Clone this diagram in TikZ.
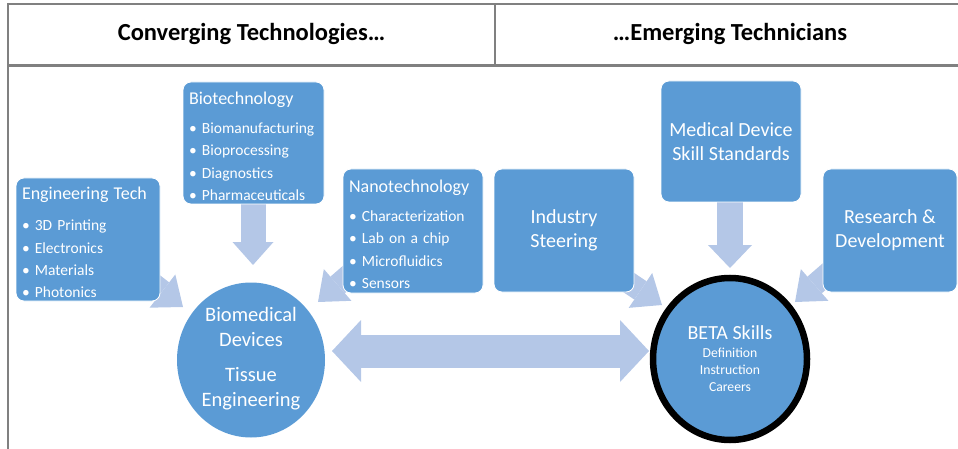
\documentclass[tikz,border=0pt]{standalone}
\usepackage{fontspec}
\setmainfont{Carlito}
\usetikzlibrary{arrows.meta,shapes.geometric}
\definecolor{boxblue}{HTML}{5B9BD5}
\definecolor{arrowblue}{HTML}{B4C7E7}
\definecolor{rulegray}{HTML}{808080}
\newcommand{\titlesize}{\fontsize{18}{22.3}\selectfont\rule{0pt}{19pt}}
\newcommand{\listsize}{\fontsize{15.5}{22.3}\selectfont}
\newcommand{\stepsize}{\fontsize{13.7}{17}\selectfont}
\begin{document}
\begin{tikzpicture}[x=1pt,y=-1pt,
  techbox/.style={rectangle, rounded corners=8pt, fill=boxblue, draw=white,
    line width=0.8pt, text=white, inner xsep=6pt, inner ysep=0pt},
  listbox/.style={techbox, align=left, font=\listsize},
  labelbox/.style={techbox, align=center, font=\fontsize{20}{24}\selectfont},
  hub/.style={ellipse, fill=boxblue, text=white, align=center, inner sep=0pt},
  fatarrow/.style n args={3}{color=arrowblue, line width=#1, line cap=butt,
    -{Triangle[width=#2, length=#3, line width=0pt]}},
  fatboth/.style n args={3}{color=arrowblue, line width=#1, line cap=butt,
    {Triangle[width=#2, length=#3, line width=0pt]}-{Triangle[width=#2, length=#3, line width=0pt]}},
  header/.style={font=\fontsize{24.5}{28}\selectfont\bfseries}
]
\useasboundingbox (0,0) rectangle (958,449);

% header table
\draw[rulegray, line width=2.5pt] (7,4) -- (958,4);
\draw[rulegray, line width=3pt] (7,66) -- (958,66);
\draw[rulegray, line width=1.5pt] (8,3) -- (8,449);
\draw[rulegray, line width=1.2pt] (495,4) -- (495,66);
\node[header] (hl) at (251.5,34) {Converging Technologies…};
\node[header] (hr) at (730,34) {…Emerging Technicians};

% arrow end points
\coordinate (engtail) at (143,276);
\coordinate (engtip) at (183,307);
\coordinate (nanotail) at (356,269);
\coordinate (nanotip) at (318,302);
\coordinate (indtail) at (625,280);
\coordinate (indtip) at (662,305);
\coordinate (rdtail) at (833,269);
\coordinate (rdtip) at (795,302);
\coordinate (biotail) at (253,200);
\coordinate (biotip) at (253,265);
\coordinate (mdstail) at (730,198);
\coordinate (mdstip) at (730,268);
\coordinate (ltip) at (332,351);
\coordinate (rtip) at (649,351);

% block arrows (drawn first, boxes cover their tails)
\draw[fatarrow={22pt}{42pt}{26pt}] (engtail) -- (engtip);
\draw[fatarrow={22pt}{42pt}{26pt}] (nanotail) -- (nanotip);
\draw[fatarrow={22pt}{42pt}{26pt}] (indtail) -- (indtip);
\draw[fatarrow={22pt}{42pt}{26pt}] (rdtail) -- (rdtip);
\draw[fatarrow={25pt}{41pt}{23pt}] (biotail) -- (biotip);
\draw[fatarrow={26pt}{44pt}{23pt}] (mdstail) -- (mdstip);
\draw[fatboth={33pt}{62pt}{29pt}] (ltip) -- (rtip);

% converging technologies
\node[listbox, text width=132pt, minimum height=123pt] (eng) at (88,239.5)
  {\titlesize Engineering Tech\\[8.7pt]
   \listsize \textbullet\ 3D Printing\\ \textbullet\ Electronics\\
   \textbullet\ Materials\\ \textbullet\ Photonics};
\node[listbox, text width=129pt, minimum height=122pt] (bio) at (253.5,143)
  {\titlesize Biotechnology\\[6.7pt]
   \listsize \textbullet\ Biomanufacturing\\ \textbullet\ Bioprocessing\\
   \textbullet\ Diagnostics\\ \textbullet\ Pharmaceuticals};
\node[listbox, text width=128pt, minimum height=124pt] (nano) at (413,231)
  {\titlesize Nanotechnology\\[6.7pt]
   \listsize \textbullet\ Characterization\\ \textbullet\ Lab on a chip\\
   \textbullet\ Microfluidics\\ \textbullet\ Sensors};

% emerging technicians
\node[labelbox, minimum width=140pt, minimum height=123pt] (ind) at (564,230.5)
  {Industry\\Steering};
\node[labelbox, minimum width=140pt, minimum height=121pt] (mds) at (731,141.5)
  {Medical Device\\Skill Standards};
\node[labelbox, minimum width=134pt, minimum height=123pt] (rd) at (890,230.5)
  {Research \&\\Development};

% hubs
\node[hub, minimum width=148pt, minimum height=155pt,
      font=\fontsize{20.5}{25.5}\selectfont] (biomed) at (251,360)
  {Biomedical\\Devices\\[9pt]Tissue\\Engineering\rule[-6pt]{0pt}{6pt}};
\node[hub, draw=black, line width=6.5pt, minimum width=154pt, minimum height=162pt,
      font=\fontsize{20}{21}\selectfont] (beta) at (730,359)
  {BETA Skills\\[-3pt]
   \stepsize Definition\\[-4pt] \stepsize Instruction\\[-4pt] \stepsize Careers};
\end{tikzpicture}
\end{document}
